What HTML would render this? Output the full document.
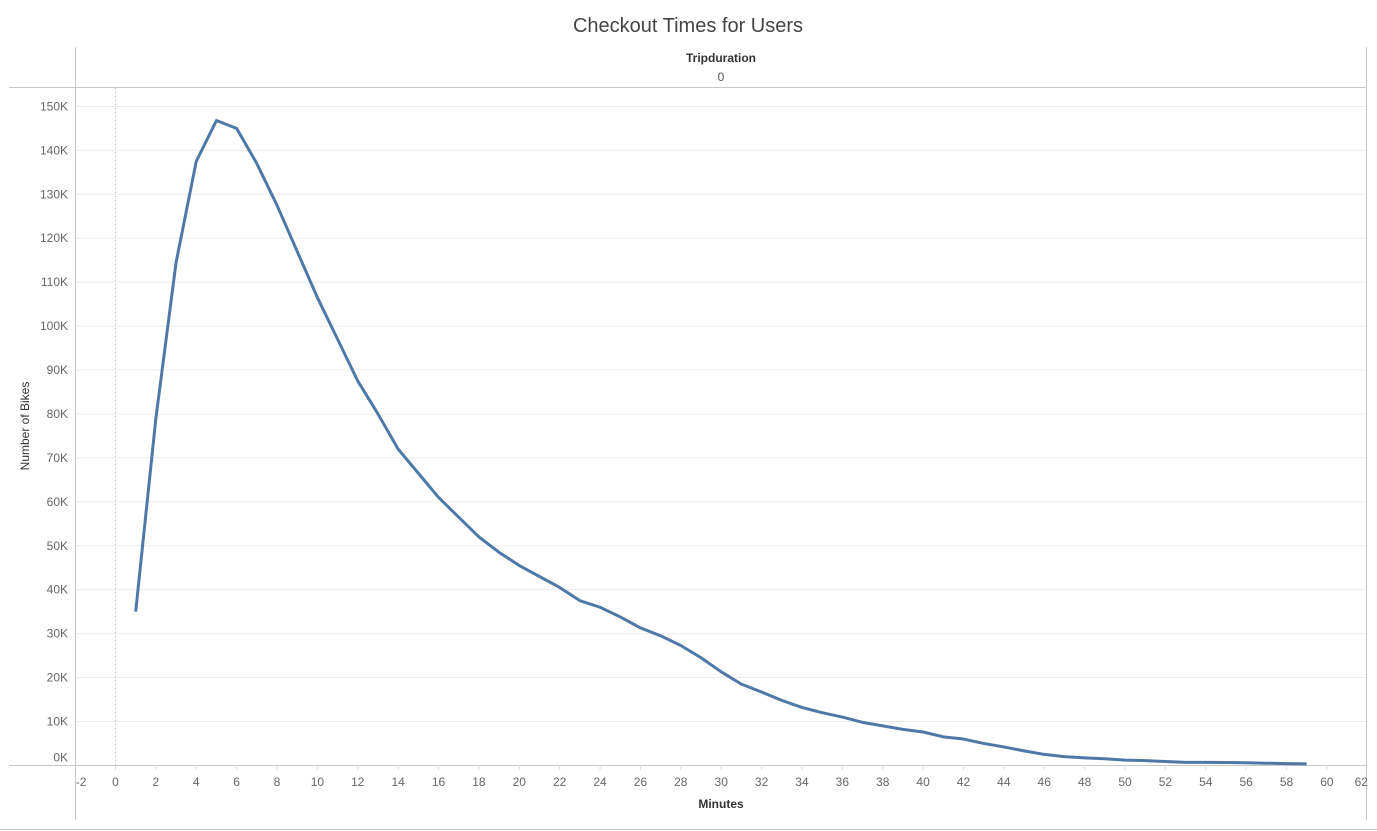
<!DOCTYPE html>
<html><head><meta charset="utf-8"><style>
body{margin:0;background:#fff;font-family:"Liberation Sans",sans-serif;}
svg{display:block}
</style></head><body>
<svg id="c" width="1377" height="831">
<text x="688" y="32" text-anchor="middle" font-size="20" fill="#444">Checkout Times for Users</text>
<text x="721" y="62" text-anchor="middle" font-size="12" font-weight="bold" fill="#333">Tripduration</text>
<text x="721" y="81" text-anchor="middle" font-size="12" fill="#555">0</text>
<text transform="translate(29,426) rotate(-90)" text-anchor="middle" font-size="12" fill="#333">Number of Bikes</text>
<text x="721" y="808" text-anchor="middle" font-size="12" font-weight="bold" fill="#333">Minutes</text>
<g id="grid"></g><g id="frame"></g><g id="ticks"></g><g id="series"></g>
</svg>
<script>
const minutes=[1,2,3,4,5,6,7,8,9,10,11,12,13,14,15,16,17,18,19,20,21,22,23,24,25,26,27,28,29,30,31,32,33,34,35,36,37,38,39,40,41,42,43,44,45,46,47,48,49,50,51,52,53,54,55,56,57,58,59];
const bikes=[35000,79000,114500,137500,146800,145000,137000,127500,117000,106500,97000,87500,80000,72000,66500,61000,56500,52000,48500,45500,43000,40500,37500,36000,33800,31300,29500,27300,24500,21300,18500,16700,14800,13200,12000,11000,9800,9000,8200,7600,6500,6000,5000,4200,3300,2500,2000,1700,1500,1200,1100,900,700,700,650,600,500,400,350];
const yTicks=[0,10000,20000,30000,40000,50000,60000,70000,80000,90000,100000,110000,120000,130000,140000,150000];
const xTicks=[-2,0,2,4,6,8,10,12,14,16,18,20,22,24,26,28,30,32,34,36,38,40,42,44,46,48,50,52,54,56,58,60,62];
const NS="http://www.w3.org/2000/svg";
const xS=v=>115.5+v*20.19;
const yS=v=>765.4-v*0.004393;
function mk(tag,attrs,parent){const e=document.createElementNS(NS,tag);for(const k in attrs)e.setAttribute(k,attrs[k]);document.getElementById(parent).appendChild(e);return e;}
yTicks.forEach(t=>{
  if(t>0){const g=mk('line',{x1:76,x2:1366,y1:yS(t),y2:yS(t),stroke:'#ececec'},'grid');
  
  }
  const l=mk('text',{x:68,y:yS(t)+4-(t===0?8:0),'text-anchor':'end','font-size':12,fill:'#666'},'ticks');
  l.textContent=(t/1000)+'K';
  
  
});
xTicks.forEach(t=>{
  const l=mk('text',{x:xS(t)+(t===62?-6:0)+(t===-2?6:0),y:786,'text-anchor':'middle','font-size':12,fill:'#666'},'ticks');
  l.textContent=t;
  
  
  if(t>-2&&t<62){mk('line',{x1:xS(t),x2:xS(t),y1:765,y2:770,stroke:'#ddd'},'ticks');}
});
const z=mk('line',{x1:xS(0),x2:xS(0),y1:88,y2:765,stroke:'#bbb','stroke-dasharray':'1,3'},'grid');


[[75.5,47,75.5,820],[1366.5,47,1366.5,820],[9,87.5,1366,87.5],[9,765.5,1366,765.5],[0,829.5,1377,829.5]].forEach(a=>{
  const f=mk('line',{x1:a[0],y1:a[1],x2:a[2],y2:a[3],stroke:'#c8c8c8'},'frame');
  
  
});
const p=mk('polyline',{points:minutes.map((m,i)=>xS(m)+','+yS(bikes[i])).join(' '),fill:'none',stroke:'#4e79a7','stroke-width':3,'stroke-linejoin':'round'},'series');


</script>
</body></html>
